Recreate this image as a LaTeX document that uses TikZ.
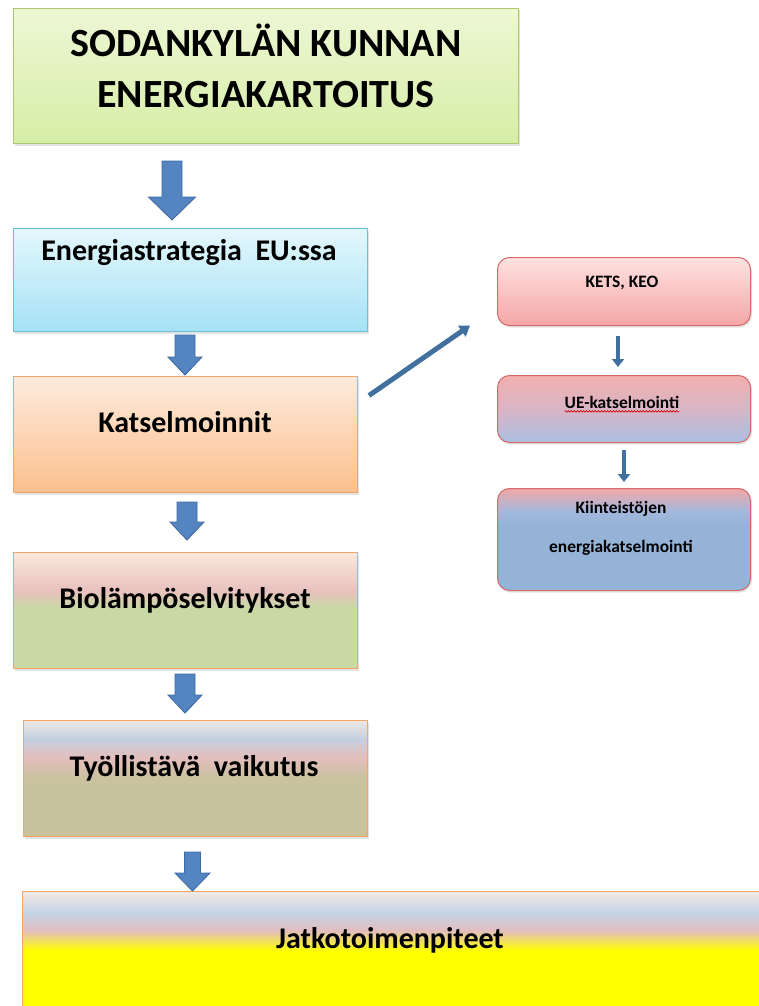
\documentclass[tikz,border=0pt]{standalone}
\usepackage{fontspec}
\setmainfont{Carlito}
\usetikzlibrary{shadows,decorations.pathmorphing,arrows.meta}

% palette
\definecolor{titleTop}{HTML}{EDF7D5}
\definecolor{titleBot}{HTML}{D6EEA6}
\definecolor{titleLine}{HTML}{A9C870}
\definecolor{euTop}{HTML}{E4F7FC}
\definecolor{euBot}{HTML}{A5E2F5}
\definecolor{euLine}{HTML}{6CBFD6}
\definecolor{katTop}{HTML}{FDEBDC}
\definecolor{katBot}{HTML}{FBC08E}
\definecolor{orLine}{HTML}{F5A565}
\definecolor{bioA}{HTML}{FBE9DD}
\definecolor{bioB}{HTML}{E8C1BE}
\definecolor{bioC}{HTML}{C9D9A6}
\definecolor{tyoA}{HTML}{EDE9E4}
\definecolor{tyoB}{HTML}{C4D0DF}
\definecolor{tyoC}{HTML}{E3BEBD}
\definecolor{tyoD}{HTML}{C9C29F}
\definecolor{jatA}{HTML}{F3E9E3}
\definecolor{jatB}{HTML}{C3D3E6}
\definecolor{jatC}{HTML}{E3BEC0}
\definecolor{jatD}{HTML}{FFFF00}
\definecolor{ketsTop}{HTML}{FFE2E2}
\definecolor{ketsBot}{HTML}{F4A6A6}
\definecolor{redLine}{HTML}{D46A6A}
\definecolor{ueA}{HTML}{F2AFAF}
\definecolor{ueB}{HTML}{D9B5C6}
\definecolor{ueC}{HTML}{A9BFE2}
\definecolor{kiA}{HTML}{F3A7A7}
\definecolor{kiB}{HTML}{A3B8DC}
\definecolor{kiC}{HTML}{95B3D7}
\definecolor{arrFill}{HTML}{5585C0}
\definecolor{arrLine}{HTML}{3E6BA2}
\definecolor{thinArr}{HTML}{41709F}

% multi-stop fills (the path's box spans 25bp..75bp)
\pgfdeclareverticalshading{shBio}{100bp}{color(0bp)=(bioC); color(25bp)=(bioC); color(51bp)=(bioC); color(58.5bp)=(bioB); color(75bp)=(bioA); color(100bp)=(bioA)}
\pgfdeclareverticalshading{shTyo}{100bp}{color(0bp)=(tyoD); color(25bp)=(tyoD); color(50bp)=(tyoD); color(59bp)=(tyoC); color(67bp)=(tyoB); color(75bp)=(tyoA); color(100bp)=(tyoA)}
\pgfdeclareverticalshading{shJat}{100bp}{color(0bp)=(jatD); color(25bp)=(jatD); color(50.5bp)=(jatD); color(58.9bp)=(jatC); color(66.3bp)=(jatB); color(75bp)=(jatA); color(100bp)=(jatA)}
\pgfdeclareverticalshading{shUE}{100bp}{color(0bp)=(ueC); color(25bp)=(ueC); color(50bp)=(ueB); color(75bp)=(ueA); color(100bp)=(ueA)}
\pgfdeclareverticalshading{shKi}{100bp}{color(0bp)=(kiC); color(25bp)=(kiC); color(57bp)=(kiC); color(64bp)=(kiB); color(75bp)=(kiA); color(100bp)=(kiA)}

\newcommand{\blockarrow}[6]{%
  \filldraw[barrow] ({#1-#4},#2) -- ({#1+#4},#2) -- ({#1+#4},{#3-#6}) -- ({#1+#5},{#3-#6})
    -- (#1,#3) -- ({#1-#5},{#3-#6}) -- ({#1-#4},{#3-#6}) -- cycle;}

\begin{document}
\begin{tikzpicture}[x=1pt,y=-1pt,
  box/.style={rectangle, draw, line width=1pt, anchor=north west, inner sep=0pt,
    drop shadow={opacity=0.22, shadow xshift=1.5pt, shadow yshift=-2pt}},
  rbox/.style={box, rounded corners=12pt, draw=redLine},
  bigtxt/.style={font=\bfseries\fontsize{30}{34}\selectfont, inner sep=0pt},
  titletxt/.style={font=\bfseries\fontsize{40}{46}\selectfont, inner sep=0pt},
  smalltxt/.style={font=\bfseries\fontsize{17.4}{20}\selectfont, inner sep=0pt},
  barrow/.style={fill=arrFill, draw=arrLine, line width=0.9pt, line join=miter},
  thin/.style={draw=thinArr, line width=4.5pt, -{Triangle[width=12pt,length=8pt]}}]

\useasboundingbox (0,0) rectangle (759,1006);

% left column of boxes
\node[box, draw=titleLine, top color=titleTop, bottom color=titleBot,
  minimum width=505pt, minimum height=135pt] (title) at (13,8) {};
\node[box, draw=euLine, top color=euTop, bottom color=euBot,
  minimum width=354pt, minimum height=103pt] (eu) at (13,228) {};
\node[box, draw=orLine, top color=katTop, bottom color=katBot,
  minimum width=344pt, minimum height=116pt] (kat) at (13,376) {};
\node[box, draw=orLine, shade, shading=shBio,
  minimum width=344pt, minimum height=116pt] (bio) at (13,552) {};
\node[box, draw=orLine, shade, shading=shTyo,
  minimum width=344pt, minimum height=116pt] (tyo) at (23,720) {};
\node[box, draw=orLine, shade, shading=shJat,
  minimum width=740pt, minimum height=121pt] (jat) at (22,891) {};

% texts of the left column
\node[titletxt] (tl1) at (266,40) {SODANKYLÄN KUNNAN};
\node[titletxt] (tl2) at (266,95) {ENERGIAKARTOITUS};
\node[bigtxt] (teu) at (189,253) {Energiastrategia\ \ EU:ssa};
\node[bigtxt] (tkat) at (185,422) {Katselmoinnit};
\node[bigtxt] (tbio) at (185,600) {Biolämpöselvitykset};
\node[bigtxt] (ttyo) at (194,768) {Työllistävä\ \ vaikutus};
\node[bigtxt] (tjat) at (390,940) {Jatkotoimenpiteet};

% block arrows between the steps
\blockarrow{172}{161}{220}{10}{23.5}{23}
\blockarrow{185}{335}{375}{10}{17}{18}
\blockarrow{187}{502}{540}{10}{17}{18}
\blockarrow{185}{674}{713}{10}{17}{18}
\blockarrow{192.5}{852}{891}{8}{17.5}{18}

% right column
\node[rbox, top color=ketsTop, bottom color=ketsBot,
  minimum width=253pt, minimum height=68pt] (kets) at (497,257) {};
\node[rbox, shade, shading=shUE,
  minimum width=253pt, minimum height=67pt] (ue) at (497,375) {};
\node[rbox, shade, shading=shKi,
  minimum width=253pt, minimum height=102pt] (ki) at (497,488) {};

\node[smalltxt] (tkets) at (622,283) {KETS, KEO};
\node[smalltxt] (tue) at (622,402) {UE-katselmointi};
\draw[red!85!black, line width=0.6pt, decorate,
  decoration={snake, amplitude=0.8pt, segment length=3pt}]
  ([yshift=-3pt]tue.south west) -- ([yshift=-3pt]tue.south east);
\node[smalltxt] (tki1) at (621,509) {Kiinteistöjen};
\node[smalltxt] (tki2) at (621,548) {energiakatselmointi};

% connectors
\draw[thin] ([xshift=-6pt,yshift=-10pt]kets.south) -- ([xshift=-6pt,yshift=8pt]ue.north);
\draw[thin] ([yshift=-7pt]ue.south) -- ([yshift=6pt]ki.north);
\draw[draw=thinArr, line width=5pt, -{Triangle[width=13pt,length=10pt]}]
  ([xshift=11pt,yshift=39pt]kat.east) -- ([xshift=-27pt,yshift=-34pt]kets.west);
\end{tikzpicture}
\end{document}
